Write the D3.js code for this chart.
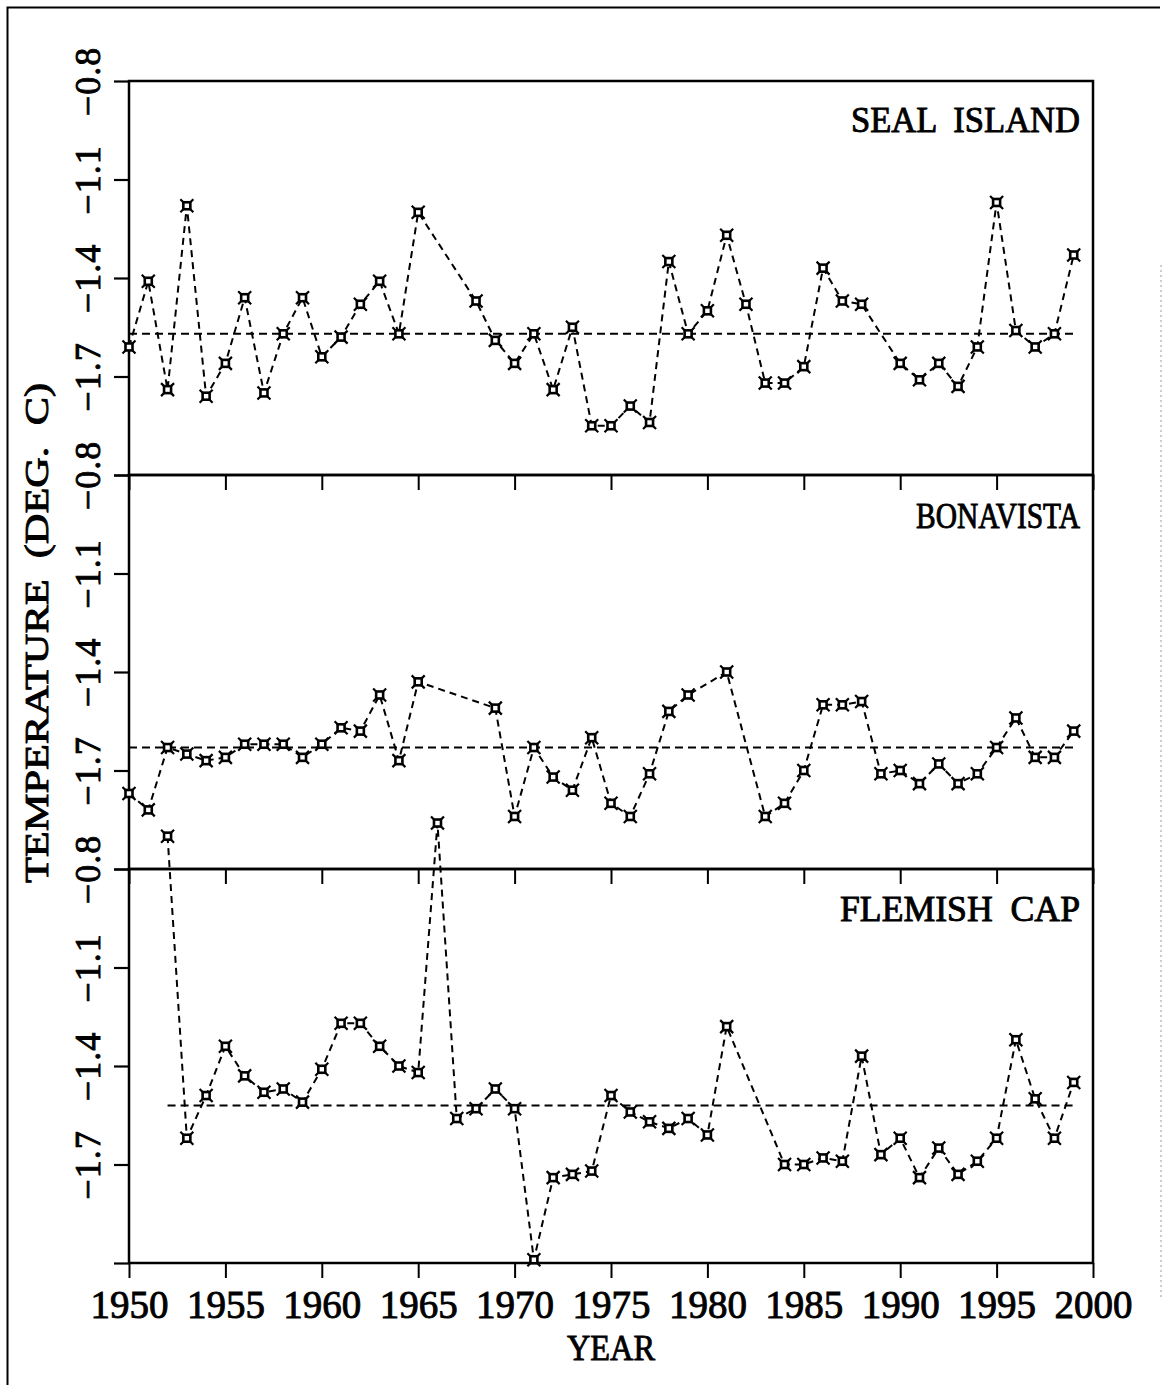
<!DOCTYPE html>
<html>
<head>
<meta charset="utf-8">
<script src="https://cdn.jsdelivr.net/npm/d3@7"></script>
<style>
  html, body { margin: 0; padding: 0; background: #fff; }
  svg { display: block; }
  text { font-family: "Liberation Serif", "DejaVu Serif", serif; fill: #000; }
</style>
</head>
<body>
<svg id="chart" width="1165" height="1385"></svg>
<script>
// Annual mean bottom temperatures at three stations (deg C)
const sealYears = [1950,1951,1952,1953,1954,1955,1956,1957,1958,1959,1960,1961,1962,1963,1964,1965,
  1968,1969,1970,1971,1972,1973,1974,1975,1976,1977,1978,1979,1980,1981,1982,1983,1984,1985,1986,1987,1988,
  1990,1991,1992,1993,1994,1995,1996,1997,1998,1999];
const sealTemps = [-1.61,-1.41,-1.74,-1.18,-1.76,-1.66,-1.46,-1.75,-1.57,-1.46,-1.64,-1.58,-1.48,-1.41,-1.57,-1.20,
  -1.47,-1.59,-1.66,-1.57,-1.74,-1.55,-1.85,-1.85,-1.79,-1.84,-1.35,-1.57,-1.50,-1.27,-1.48,-1.72,-1.72,-1.67,-1.37,-1.47,-1.48,
  -1.66,-1.71,-1.66,-1.73,-1.61,-1.17,-1.56,-1.61,-1.57,-1.33];
const sealMean = -1.57;

const bonaYears = [1950,1951,1952,1953,1954,1955,1956,1957,1958,1959,1960,1961,1962,1963,1964,1965,
  1969,1970,1971,1972,1973,1974,1975,1976,1977,1978,1979,1981,
  1983,1984,1985,1986,1987,1988,1989,1990,1991,1992,1993,1994,1995,1996,1997,1998,1999];
const bonaTemps = [-1.77,-1.82,-1.63,-1.65,-1.67,-1.66,-1.62,-1.62,-1.62,-1.66,-1.62,-1.57,-1.58,-1.47,-1.67,-1.43,
  -1.51,-1.84,-1.63,-1.72,-1.76,-1.60,-1.80,-1.84,-1.71,-1.52,-1.47,-1.40,
  -1.84,-1.80,-1.70,-1.50,-1.50,-1.49,-1.71,-1.70,-1.74,-1.68,-1.74,-1.71,-1.63,-1.54,-1.66,-1.66,-1.58];
const bonaMean = -1.63;

const flemYears = [1952,1953,1954,1955,1956,1957,1958,1959,1960,1961,1962,1963,1964,1965,1966,1967,1968,1969,
  1970,1971,1972,1973,1974,1975,1976,1977,1978,1979,1980,1981,
  1984,1985,1986,1987,1988,1989,1990,1991,1992,1993,1994,1995,1996,1997,1998,1999];
const flemTemps = [-0.70,-1.62,-1.49,-1.34,-1.43,-1.48,-1.47,-1.51,-1.41,-1.27,-1.27,-1.34,-1.40,-1.42,-0.66,-1.56,-1.53,-1.47,
  -1.53,-1.99,-1.74,-1.73,-1.72,-1.49,-1.54,-1.57,-1.59,-1.56,-1.61,-1.28,
  -1.70,-1.70,-1.68,-1.69,-1.37,-1.67,-1.62,-1.74,-1.65,-1.73,-1.69,-1.62,-1.32,-1.50,-1.62,-1.45];
const flemMean = -1.52;

const stationNames = ["SEAL  ISLAND", "BONAVISTA", "FLEMISH  CAP"];
const yTicks = [-0.8, -1.1, -1.4, -1.7, -2.0];
const xTicks = [1950,1955,1960,1965,1970,1975,1980,1985,1990,1995,2000];
const yDomain = [-2.0, -0.8];
const xDomain = [1950, 2000];

const stations = [
  { name: stationNames[0], years: sealYears, temps: sealTemps, mean: sealMean },
  { name: stationNames[1], years: bonaYears, temps: bonaTemps, mean: bonaMean },
  { name: stationNames[2], years: flemYears, temps: flemTemps, mean: flemMean }
];

// Layout
const left = 129, right = 1093;
const panelTops = [81, 475, 869];
const panelH = 394;
const titleGeom = [ {x: 1080, y: 132, w: 229}, {x: 1080, y: 528, w: 164}, {x: 1080, y: 921, w: 240} ];
const textStroke = 0.9;

const svg = d3.select("#chart");

// outer frame of the figure
svg.append("path")
  .attr("d", "M7.5,1385 V7.5 H1160")
  .attr("fill", "none").attr("stroke", "#000").attr("stroke-width", 2);
svg.append("line")
  .attr("x1", 1161).attr("x2", 1161).attr("y1", 265).attr("y2", 1300)
  .attr("stroke", "#999").attr("stroke-width", 1).attr("stroke-dasharray", "2,3");

const x = d3.scaleLinear().domain(xDomain).range([left, right]);

// marker: small square with four diagonal spikes
const markerPath = "M-6.5,-6.5L6.5,6.5M-6.5,6.5L6.5,-6.5";

stations.forEach((st, i) => {
  const top = panelTops[i];
  const y = d3.scaleLinear().domain(yDomain).range([top + panelH, top]);
  const g = svg.append("g");

  // y axis with outward ticks, rotated labels
  const yAxis = d3.axisLeft(y)
    .tickValues(yTicks)
    .tickSize(15)
    .tickSizeOuter(0)
    .tickFormat(d => Math.abs(d + 2.0) < 1e-9 ? "" : d3.format(".1f")(d));
  const ya = g.append("g").attr("transform", `translate(${left},0)`).call(yAxis);
  ya.select(".domain").remove();
  ya.selectAll(".tick line").attr("stroke", "#000").attr("stroke-width", 2.2);
  ya.selectAll(".tick text")
    .attr("x", null).attr("y", null).attr("dy", null)
    .attr("text-anchor", "middle")
    .attr("transform", "translate(-29,0) rotate(-90)")
    .style("font-size", "36px")
    .style("letter-spacing", "1px")
    .attr("stroke", "#000").attr("stroke-width", textStroke);

  // x axis with ticks hanging below the panel
  const xAxis = d3.axisBottom(x)
    .tickValues(xTicks)
    .tickSize(15)
    .tickSizeOuter(0)
    .tickFormat(i === 2 ? d3.format("d") : () => "");
  const xa = g.append("g").attr("transform", `translate(0,${top + panelH})`).call(xAxis);
  xa.select(".domain").remove();
  xa.selectAll(".tick line").attr("stroke", "#000").attr("stroke-width", 2);
  xa.selectAll(".tick text")
    .attr("y", 55).attr("dy", null)
    .style("font-size", "39px")
    .attr("stroke", "#000").attr("stroke-width", textStroke);

  // panel frame
  g.append("rect")
    .attr("x", left).attr("y", top)
    .attr("width", right - left).attr("height", panelH)
    .attr("fill", "none").attr("stroke", "#000").attr("stroke-width", 2.5);

  // mean level
  g.append("line")
    .attr("x1", x(st.years[0])).attr("x2", x(1999))
    .attr("y1", y(st.mean)).attr("y2", y(st.mean))
    .attr("stroke", "#000").attr("stroke-width", 2)
    .attr("stroke-dasharray", "8,5");

  const pts = st.years.map((yr, k) => [yr, st.temps[k]]);

  // annual series
  g.append("path")
    .datum(pts)
    .attr("d", d3.line().x(d => x(d[0])).y(d => y(d[1])))
    .attr("fill", "none").attr("stroke", "#000").attr("stroke-width", 2)
    .attr("stroke-dasharray", "7,5");

  const m = g.append("g").selectAll("g").data(pts).join("g")
    .attr("transform", d => `translate(${x(d[0])},${y(d[1])})`);
  m.append("path").attr("d", markerPath)
    .attr("stroke", "#000").attr("stroke-width", 2.2).attr("fill", "none");
  m.append("rect").attr("x", -3.5).attr("y", -3.5).attr("width", 7).attr("height", 7)
    .attr("fill", "#fff").attr("stroke", "#000").attr("stroke-width", 2.6);

  // station title
  const tg = titleGeom[i];
  g.append("text")
    .attr("x", tg.x).attr("y", tg.y)
    .attr("text-anchor", "end")
    .attr("textLength", tg.w).attr("lengthAdjust", "spacingAndGlyphs")
    .style("font-size", "35px").style("white-space", "pre")
    .attr("stroke", "#000").attr("stroke-width", textStroke)
    .text(st.name);
});

// axis titles
svg.append("text")
  .attr("x", 611).attr("y", 1360)
  .attr("text-anchor", "middle")
  .attr("textLength", 88).attr("lengthAdjust", "spacingAndGlyphs")
  .style("font-size", "36px")
  .attr("stroke", "#000").attr("stroke-width", textStroke)
  .text("YEAR");

svg.append("text")
  .attr("transform", "translate(48,633) rotate(-90)")
  .attr("text-anchor", "middle")
  .attr("textLength", 500).attr("lengthAdjust", "spacingAndGlyphs")
  .style("font-size", "34px").style("white-space", "pre")
  .attr("stroke", "#000").attr("stroke-width", textStroke)
  .text("TEMPERATURE  (DEG.  C)");
</script>
</body>
</html>
